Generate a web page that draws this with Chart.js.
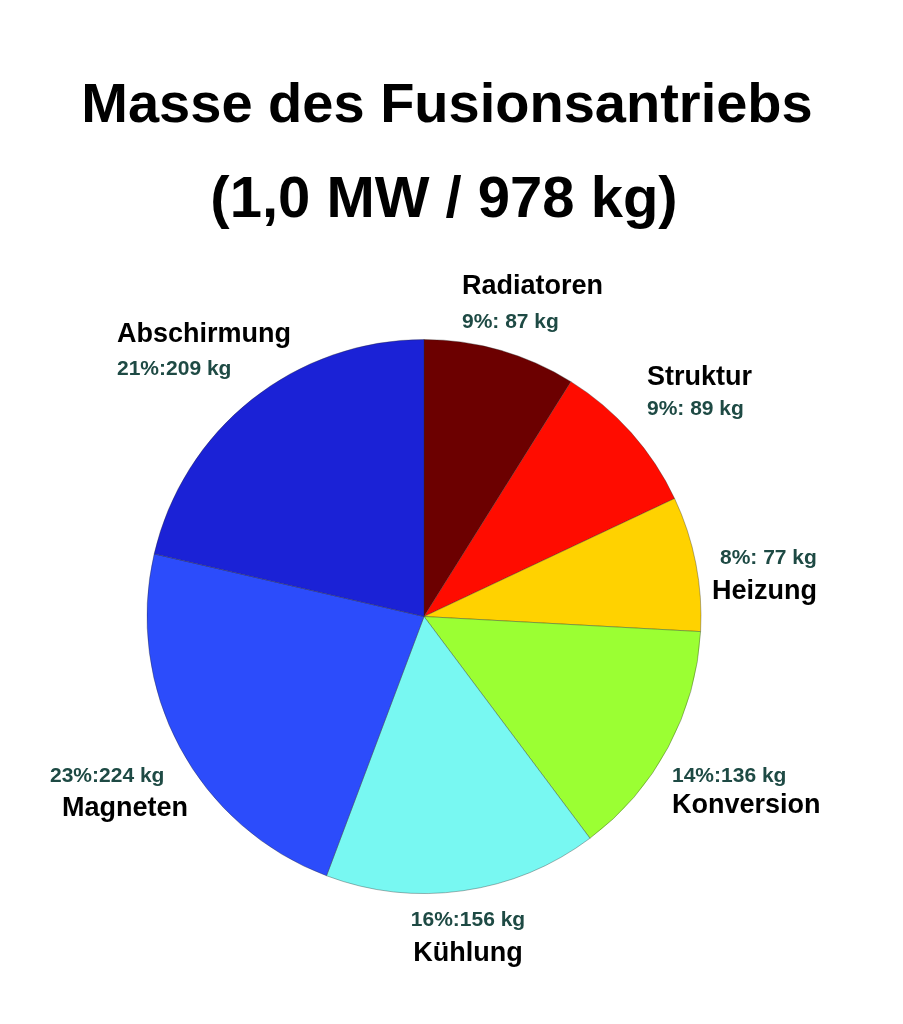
<!DOCTYPE html>
<html lang="de">
<head>
    <meta charset="UTF-8">
    <title>Masse des Fusionsantriebs</title>
    <script src="https://cdn.jsdelivr.net/npm/chart.js"></script>
    <style>
        html, body { margin: 0; padding: 0; background: #fff; }
        #wrap { width: 903px; height: 1024px; }
    </style>
</head>
<body>
    <div id="wrap"><canvas id="myChart"></canvas></div>

    <script>
        const titleLines = ['Masse des Fusionsantriebs', '(1,0 MW / 978 kg)'];
        const labels = ['Radiatoren', 'Struktur', 'Heizung', 'Konversion', 'Kühlung', 'Magneten', 'Abschirmung'];
        const masses = [87, 89, 77, 136, 156, 224, 209];
        const colors = ['#6c0000', '#ff0c00', '#ffd200', '#9bff33', '#78f8f2', '#2c4cfb', '#1b22d6'];

        // text placement per slice, offset from pie centre (px)
        // [nameDx, nameDy, valueDx, valueDy, align, separator]
        const labelLayout = [
            [38, -323, 38, -289, 'left', ': '],
            [223, -232, 223, -202, 'left', ': '],
            [288, -18, 296, -53, 'left', ': '],
            [248, 196, 248, 165, 'left', ':'],
            [44, 344, 44, 309, 'center', ':'],
            [-362, 199, -374, 165, 'left', ':'],
            [-307, -275, -307, -242, 'left', ':']
        ];

        const total = masses.reduce((a, b) => a + b, 0);

        const textPlugin = {
            id: 'texts',
            afterDraw(chart) {
                const c = chart.ctx;
                const arc = chart.getDatasetMeta(0).data[0];
                const cx = arc.x, cy = arc.y;
                c.save();
                c.fillStyle = '#000';
                c.textAlign = 'center';
                c.textBaseline = 'alphabetic';
                c.font = 'bold 56px "Liberation Sans", Arial, sans-serif';
                c.fillText(titleLines[0], 447, 122);
                c.font = 'bold 58px "Liberation Sans", Arial, sans-serif';
                c.fillText(titleLines[1], 444, 217);

                labels.forEach((name, i) => {
                    const l = labelLayout[i];
                    const pct = Math.round(masses[i] / total * 100);
                    const valueText = pct + '%' + l[5] + masses[i] + ' kg';
                    c.textAlign = l[4];
                    c.fillStyle = '#000';
                    c.font = 'bold 27px "Liberation Sans", Arial, sans-serif';
                    c.fillText(name, cx + l[0], cy + l[1]);
                    c.fillStyle = '#1e4a44';
                    c.font = 'bold 21px "Liberation Sans", Arial, sans-serif';
                    c.fillText(valueText, cx + l[2], cy + l[3]);
                });
                c.restore();
            }
        };

        new Chart(document.getElementById('myChart'), {
            type: 'pie',
            data: {
                labels: labels,
                datasets: [{
                    data: masses,
                    backgroundColor: colors,
                    borderColor: 'rgba(40,40,40,0.35)',
                    borderWidth: 1
                }]
            },
            options: {
                responsive: true,
                maintainAspectRatio: false,
                animation: false,
                layout: { padding: { top: 339, bottom: 130, left: 0, right: 55 } },
                plugins: {
                    legend: { display: false },
                    tooltip: { enabled: false }
                }
            },
            plugins: [textPlugin]
        });
    </script>
</body>
</html>
